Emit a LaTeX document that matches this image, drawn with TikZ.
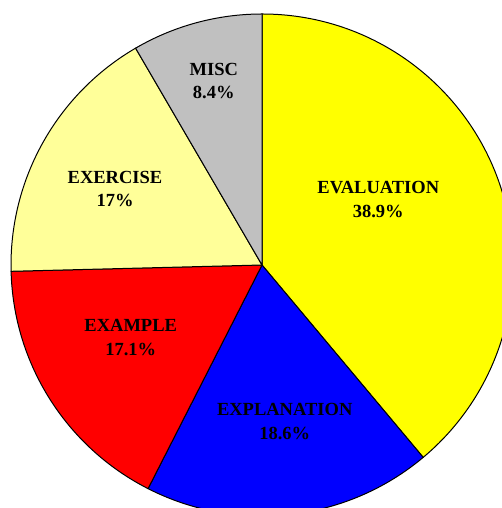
\documentclass[tikz,border=0pt]{standalone}
\usepackage{fontspec}
\setmainfont{Liberation Serif}
\begin{document}
\begin{tikzpicture}[x=1pt,y=1pt,
  slice/.style={draw=black, line width=1pt, line join=round},
  pielabel/.style={align=center, inner sep=0pt,
    font=\fontsize{18.5}{23.3}\selectfont\bfseries}]
\useasboundingbox (0,0) rectangle (502,508);
\clip (0,0) rectangle (502,508);
\def\R{251}
\coordinate (c) at (262,243);
% slices, clockwise from twelve o'clock
\filldraw[slice, fill={rgb,255:red,255;green,255;blue,0}]
  (c) -- ++(90:\R) arc[start angle=90, end angle=-50.04, radius=\R] -- cycle;
\filldraw[slice, fill={rgb,255:red,0;green,0;blue,255}]
  (c) -- ++(-50.04:\R) arc[start angle=-50.04, end angle=-117, radius=\R] -- cycle;
\filldraw[slice, fill={rgb,255:red,255;green,0;blue,0}]
  (c) -- ++(-117:\R) arc[start angle=-117, end angle=-178.56, radius=\R] -- cycle;
\filldraw[slice, fill={rgb,255:red,255;green,255;blue,153}]
  (c) -- ++(-178.56:\R) arc[start angle=-178.56, end angle=-239.76, radius=\R] -- cycle;
\filldraw[slice, fill={rgb,255:red,192;green,192;blue,192}]
  (c) -- ++(-239.76:\R) arc[start angle=-239.76, end angle=-270, radius=\R] -- cycle;
% labels
\node[pielabel] (evaluation) at (378.3,308.6) {EVALUATION\\38.9\%};
\node[pielabel] (explanation) at (284.7,86.5) {EXPLANATION\\18.6\%};
\node[pielabel] (example) at (130.7,170.6) {EXAMPLE\\17.1\%};
\node[pielabel] (exercise) at (115,318.7) {EXERCISE\\17\%};
\node[pielabel] (misc) at (213.8,427) {MISC\\8.4\%};
\end{tikzpicture}
\end{document}
